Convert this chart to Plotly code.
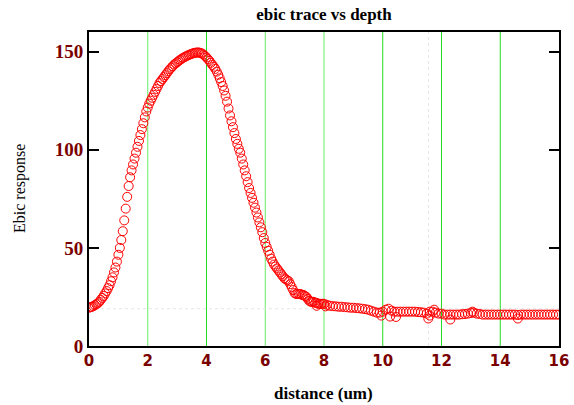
import plotly.graph_objects as go

# ---- data ----
distance_main = [
    0.00, 0.05, 0.10, 0.15, 0.20, 0.25, 0.30, 0.35, 0.40, 0.45,
    0.50, 0.55, 0.60, 0.65, 0.70, 0.75, 0.80, 0.85, 0.90, 0.95,
    1.00, 1.05, 1.10, 1.15, 1.20, 1.25, 1.30, 1.35, 1.40, 1.45,
    1.50, 1.55, 1.60, 1.65, 1.70, 1.75, 1.80, 1.85, 1.90, 1.95,
    2.00, 2.05, 2.10, 2.15, 2.20, 2.25, 2.30, 2.35, 2.40, 2.45,
    2.50, 2.55, 2.60, 2.65, 2.70, 2.75, 2.80, 2.85, 2.90, 2.95,
    3.00, 3.05, 3.10, 3.15, 3.20, 3.25, 3.30, 3.35, 3.40, 3.45,
    3.50, 3.55, 3.60, 3.65, 3.70, 3.75, 3.80, 3.85, 3.90, 3.95,
    4.00, 4.05, 4.10, 4.15, 4.20, 4.25, 4.30, 4.35, 4.40, 4.45,
    4.50, 4.55, 4.60, 4.65, 4.70, 4.75, 4.80, 4.85, 4.90, 4.95,
    5.00, 5.05, 5.10, 5.15, 5.20, 5.25, 5.30, 5.35, 5.40, 5.45,
    5.50, 5.55, 5.60, 5.65, 5.70, 5.75, 5.80, 5.85, 5.90, 5.95,
    6.00, 6.05, 6.10, 6.15, 6.20, 6.25, 6.30, 6.35, 6.40, 6.45,
    6.50, 6.55, 6.60, 6.65, 6.70, 6.75, 6.80, 6.85, 6.90, 6.95,
    7.00, 7.05, 7.10, 7.15, 7.20, 7.25, 7.30, 7.35, 7.40, 7.45,
    7.50, 7.55, 7.60, 7.65, 7.70, 7.75, 7.80, 7.85, 7.90, 7.95,
]
ebic_main = [
    19.5, 19.8, 20.0, 20.3, 20.8, 21.3, 21.8, 22.5, 23.5, 24.5,
    25.5, 26.8, 28.0, 29.5, 31.0, 33.0, 35.0, 37.5, 40.0, 43.0,
    46.5, 50.0, 54.0, 58.5, 64.0, 70.0, 76.0, 81.5, 86.0, 89.5,
    92.5, 95.5, 98.5, 101.5, 104.5, 107.5, 110.5, 113.5, 116.5, 119.5,
    121.5, 123.5, 125.0, 126.5, 128.0, 129.5, 131.0, 132.5, 134.0, 135.0,
    136.0, 137.0, 138.0, 139.0, 140.0, 141.0, 141.8, 142.6, 143.4, 144.0,
    144.6, 145.2, 145.8, 146.3, 146.8, 147.2, 147.6, 148.0, 148.3, 148.6,
    148.9, 149.2, 149.4, 149.5, 149.6, 149.5, 149.3, 149.0, 148.5, 147.8,
    147.0, 146.2, 145.3, 144.3, 143.2, 142.3, 141.2, 139.8, 138.2, 136.4,
    134.5, 132.5, 130.2, 127.5, 124.5, 121.0, 117.5, 114.5, 111.5, 108.5,
    105.5, 103.0, 100.5, 98.5, 95.5, 92.5, 89.5, 86.5, 83.5, 80.5,
    78.0, 75.5, 73.0, 70.5, 68.0, 65.5, 63.0, 60.5, 58.0, 55.0,
    52.5, 50.5, 48.5, 46.5, 44.5, 43.0, 41.5, 40.5, 39.5, 38.5,
    37.5, 36.5, 35.5, 34.5, 34.0, 33.5, 33.0, 31.5, 30.0, 28.5,
    27.0, 26.5, 26.5, 26.5, 26.5, 26.0, 26.0, 25.5, 25.0, 24.0,
    23.0, 22.5, 22.5, 22.5, 22.0, 22.0, 21.5, 21.5, 21.5, 21.5,
]
distance_tail = [
    8.0, 8.1, 8.2, 8.3, 8.4, 8.5, 8.6, 8.7, 8.8, 8.9,
    9.0, 9.1, 9.2, 9.3, 9.4, 9.5, 9.6, 9.7, 9.8, 9.9,
    10.0, 10.1, 10.2, 10.3, 10.4, 10.5, 10.6, 10.7, 10.8, 10.9,
    11.0, 11.1, 11.2, 11.3, 11.4, 11.5, 11.6, 11.7, 11.8, 11.9,
    12.0, 12.1, 12.2, 12.3, 12.4, 12.5, 12.6, 12.7, 12.8, 12.9,
    13.0, 13.1, 13.2, 13.3, 13.4, 13.5, 13.6, 13.7, 13.8, 13.9,
    14.0, 14.1, 14.2, 14.3, 14.4, 14.5, 14.6, 14.7, 14.8, 14.9,
    15.0, 15.1, 15.2, 15.3, 15.4, 15.5, 15.6, 15.7, 15.8, 15.9,
    16.0,
]
ebic_tail = [
    21.5, 21.0, 20.5, 20.3, 20.2, 20.0, 20.0, 19.8, 19.7, 19.5,
    19.5, 19.3, 19.2, 19.0, 18.8, 18.5, 18.0, 17.5, 17.0, 17.0,
    17.5, 18.5, 19.0, 18.0, 17.5, 17.5, 17.5, 17.5, 17.5, 17.5,
    17.5, 17.5, 17.3, 17.2, 17.0, 16.5, 17.5, 17.5, 17.0, 16.5,
    16.5, 16.0, 16.0, 16.0, 16.0, 16.0, 16.0, 16.2, 16.3, 16.5,
    16.8, 17.0, 16.5, 16.3, 16.0, 16.0, 16.0, 16.0, 16.0, 16.0,
    16.0, 16.0, 16.0, 16.0, 16.0, 16.0, 15.8, 16.0, 16.0, 16.0,
    16.0, 16.0, 16.0, 16.0, 16.0, 16.0, 16.0, 16.0, 16.0, 16.0,
    16.0,
]
distance_extra = [7.75, 8.05, 9.95, 10.25, 10.45, 11.55, 11.60, 11.75, 12.30, 13.05, 14.60]
ebic_extra = [20.5, 20.2, 15.5, 15.0, 14.8, 14.0, 15.5, 18.5, 13.5, 17.5, 14.0]

distance = distance_main + distance_tail + distance_extra
ebic = ebic_main + ebic_tail + ebic_extra

grid_bright = [4, 10, 12, 14]
grid_light = [2, 6, 8]
x_ticks = [0, 2, 4, 6, 8, 10, 12, 14, 16]
y_ticks = [0, 50, 100, 150]

LABEL_RED = "#7a0000"

fig = go.Figure()
fig.add_trace(go.Scatter(
    x=distance, y=ebic, mode="markers",
    marker=dict(symbol="circle-open", size=9, color="#ff0000",
                line=dict(width=1, color="#ff0000")),
    showlegend=False,
))

shapes = []
for g in grid_light:
    shapes.append(dict(type="line", xref="x", yref="paper", x0=g, x1=g, y0=0, y1=1,
                       line=dict(color="#66ee66", width=1), layer="below"))
for g in grid_bright:
    shapes.append(dict(type="line", xref="x", yref="paper", x0=g, x1=g, y0=0, y1=1,
                       line=dict(color="#22dd22", width=1), layer="below"))
# faint cursor lines
shapes.append(dict(type="line", xref="paper", yref="y", x0=0, x1=1, y0=19, y1=19,
                   line=dict(color="#e6e6e6", width=1, dash="dot"), layer="below"))
shapes.append(dict(type="line", xref="x", yref="paper", x0=11.56, x1=11.56, y0=0, y1=1,
                   line=dict(color="#e6e6e6", width=1, dash="dot"), layer="below"))

fig.update_layout(
    width=574, height=405,
    margin=dict(l=89, r=15, t=32, b=59, autoexpand=False),
    paper_bgcolor="white", plot_bgcolor="white",
    shapes=shapes,
    title=dict(text="ebic trace vs depth", x=(89 + 559) / 2 / 574, xanchor="center",
               y=1 - 14 / 405, yanchor="middle",
               font=dict(family="Liberation Serif", size=17, color="black", weight="bold")),
    xaxis=dict(range=[0, 16], tickvals=x_ticks, ticks="", showgrid=False, zeroline=False,
               automargin=False,
               showline=True, linecolor="black", linewidth=2, mirror=True,
               tickfont=dict(family="DejaVu Sans", size=15, color=LABEL_RED, weight="bold")),
    yaxis=dict(range=[0, 160], tickvals=y_ticks, ticks="inside", ticklen=10, tickwidth=1.5,
               tickcolor="black", showgrid=False, zeroline=False, automargin=False,
               showline=True, linecolor="black", linewidth=2, mirror="ticks",
               tickfont=dict(family="Liberation Serif", size=19, color=LABEL_RED, weight="bold")),
    annotations=[
        dict(text="Ebic response", xref="paper", yref="paper", x=(20 - 89) / 470, y=0.5,
             textangle=-90, showarrow=False, xanchor="center", yanchor="middle",
             font=dict(family="Liberation Serif", size=16, color="black")),
        dict(text="distance (um)", xref="paper", yref="paper", x=(323 - 89) / 470,
             y=(346 - 393) / 314, showarrow=False, xanchor="center", yanchor="middle",
             font=dict(family="Liberation Serif", size=17, color="black", weight="bold")),
    ],
)

fig.write_html("out.html")
